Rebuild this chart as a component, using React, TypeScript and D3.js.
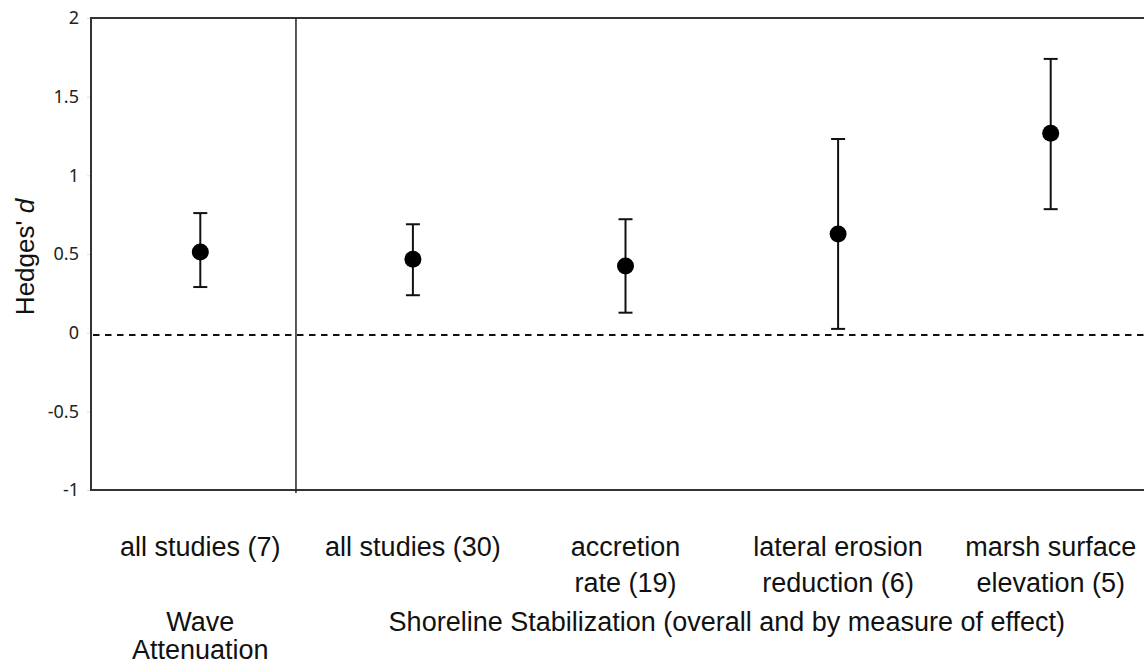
import React, { useEffect, useRef } from 'react';
import * as d3 from 'd3';

// categories along the x axis (two lines each)
const categories = ['all studies (7)', 'all studies (30)', 'accretion rate (19)', 'lateral erosion reduction (6)', 'marsh surface elevation (5)'];
const labelLines = [
	['all studies (7)'],
	['all studies (30)'],
	['accretion', 'rate (19)'],
	['lateral erosion', 'reduction (6)'],
	['marsh surface', 'elevation (5)'],
];
// effect size with lower / upper confidence limits
const means = [0.513, 0.467, 0.424, 0.627, 1.268];
const lowers = [0.29, 0.238, 0.127, 0.024, 0.785];
const uppers = [0.76, 0.689, 0.721, 1.231, 1.74];
const yTicks = [-1, -0.5, 0, 0.5, 1, 1.5, 2];
const zeroLine = -0.015;

const width = 1144;
const height = 666;
const margin = { top: 18, left: 91, bottom: 176 };

const App = () => {
	const node = useRef<SVGSVGElement | null>(null);

	useEffect(() => {
		const svg = d3.select(node.current);
		svg.selectAll('*').remove();

		const xScale = d3
			.scalePoint<string>()
			.domain(categories)
			.range([94, 1157])
			.padding(0.5);
		const yScale = d3
			.scaleLinear()
			.domain([-1, 2])
			.range([height - margin.bottom, margin.top]);

		const plotRight = width + 20;
		const font = '"Liberation Sans", Arial, sans-serif';
		const labelSize = 27;

		// faint tick marks + labels for the y axis
		const yAxis = d3
			.axisLeft(yScale)
			.tickValues(yTicks)
			.tickSize(4)
			.tickPadding(8)
			.tickFormat(d => String(d));
		const gy = svg.append('g').attr('transform', `translate(${margin.left},0)`).call(yAxis);
		gy.select('.domain').remove();
		gy.selectAll('.tick line').attr('stroke', '#ddd');
		gy.selectAll('.tick text')
			.attr('font-family', '"Noto Sans", sans-serif')
			.attr('font-size', 18)
			.attr('fill', '#222');

		// frame (left, top, bottom; right side runs off the picture)
		svg.append('path')
			.attr('d', `M${plotRight},${yScale(2)}H${margin.left}V${yScale(-1)}H${plotRight}`)
			.attr('fill', 'none')
			.attr('stroke', '#333')
			.attr('stroke-width', 2);

		// divider between the two groups
		const step = xScale.step();
		const divX = (xScale(categories[0]) as number) + step * 0.45;
		svg.append('line')
			.attr('x1', divX)
			.attr('x2', divX)
			.attr('y1', yScale(2))
			.attr('y2', yScale(-1) + 3)
			.attr('stroke', '#222')
			.attr('stroke-width', 1.5);

		// dashed reference line
		svg.append('line')
			.attr('x1', margin.left + 2)
			.attr('x2', plotRight)
			.attr('y1', yScale(zeroLine))
			.attr('y2', yScale(zeroLine))
			.attr('stroke', '#111')
			.attr('stroke-width', 2)
			.attr('stroke-dasharray', '6.5,5.5');

		const data = categories.map((c, i) => ({ c, m: means[i], lo: lowers[i], hi: uppers[i] }));

		const bars = svg.selectAll('g.bar').data(data).enter().append('g').attr('class', 'bar');
		bars.append('line')
			.attr('x1', d => xScale(d.c) as number)
			.attr('x2', d => xScale(d.c) as number)
			.attr('y1', d => yScale(d.lo))
			.attr('y2', d => yScale(d.hi))
			.attr('stroke', '#111')
			.attr('stroke-width', 2);
		[(d: any) => d.lo, (d: any) => d.hi].forEach(acc => {
			bars.append('line')
				.attr('x1', d => (xScale(d.c) as number) - 7)
				.attr('x2', d => (xScale(d.c) as number) + 7)
				.attr('y1', d => yScale(acc(d)))
				.attr('y2', d => yScale(acc(d)))
				.attr('stroke', '#111')
				.attr('stroke-width', 2);
		});
		bars.append('circle')
			.attr('cx', d => xScale(d.c) as number)
			.attr('cy', d => yScale(d.m))
			.attr('r', 8.5)
			.attr('fill', '#000');

		// category labels
		const lab = svg
			.selectAll('text.cat')
			.data(labelLines)
			.enter()
			.append('text')
			.attr('class', 'cat')
			.attr('text-anchor', 'middle')
			.attr('font-family', font)
			.attr('font-size', labelSize)
			.attr('fill', '#111')
			.attr('x', (d, i) => xScale(categories[i]) as number)
			.attr('y', 556);
		lab.selectAll('tspan')
			.data(d => d)
			.enter()
			.append('tspan')
			.attr('x', function () {
				return (this.parentNode as SVGTextElement).getAttribute('x');
			})
			.attr('dy', (d, i) => (i === 0 ? 0 : 36))
			.text(d => d);

		// group labels
		const g0 = xScale(categories[0]) as number;
		const groupLabel = (x: number, y: number, t: string) =>
			svg.append('text')
				.attr('x', x)
				.attr('y', y)
				.attr('text-anchor', 'middle')
				.attr('font-family', font)
				.attr('font-size', labelSize)
				.attr('fill', '#111')
				.text(t);
		groupLabel(g0, 631, 'Wave');
		groupLabel(g0, 659, 'Attenuation');
		const gMid = ((xScale(categories[1]) as number) + (xScale(categories[4]) as number)) / 2;
		groupLabel(gMid - 5, 631, 'Shoreline Stabilization (overall and by measure of effect)');

		// y axis title
		const yt = svg
			.append('text')
			.attr('transform', `translate(34,${(yScale(2) + yScale(-1)) / 2 + 3}) rotate(-90)`)
			.attr('text-anchor', 'middle')
			.attr('font-family', font)
			.attr('font-size', 26)
			.attr('fill', '#111');
		yt.append('tspan').text("Hedges' ");
		yt.append('tspan').attr('font-style', 'italic').text('d');
	}, []);

	return (
		<svg
			ref={node}
			width={width}
			height={height}
			style={{ position: 'absolute', left: 0, top: 0, background: '#fff' }}
		/>
	);
};

export default App;
